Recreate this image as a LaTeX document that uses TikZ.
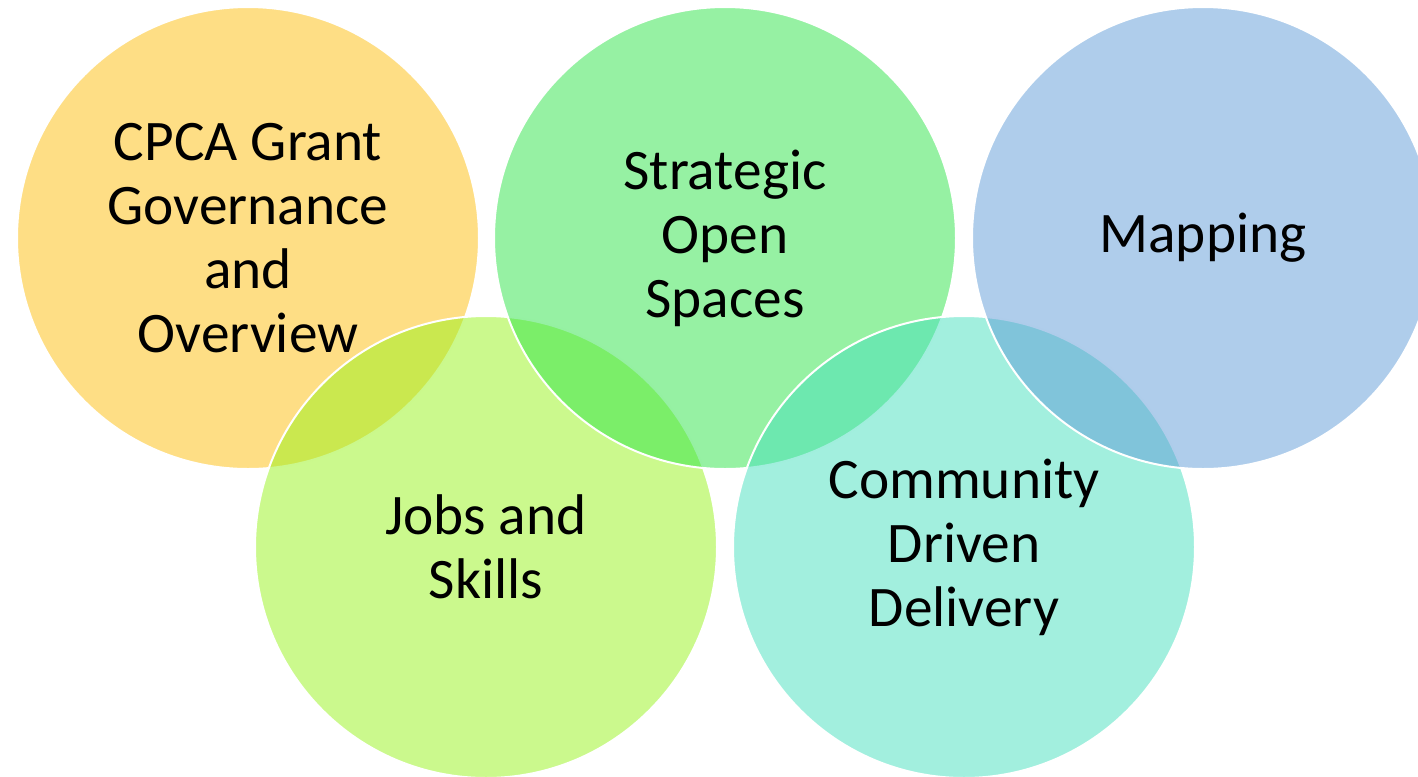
\documentclass[tikz,border=0pt]{standalone}
\usepackage{fontspec}
\setmainfont{Carlito}
\definecolor{cYellow}{RGB}{253,189,11}
\definecolor{cLime}{RGB}{151,243,27}
\definecolor{cGreen}{RGB}{45,227,71}
\definecolor{cTeal}{RGB}{69,223,189}
\definecolor{cBlue}{RGB}{95,155,215}
\begin{document}
\begin{tikzpicture}[x=0.75pt,y=-0.75pt,
  venn/.style={circle,minimum size=346.5pt,inner sep=0pt,outer sep=0pt,
    fill opacity=0.5,draw=white,draw opacity=1,line width=1.5pt},
  lbl/.style={align=center,text=black,font=\fontsize{43}{48}\selectfont}]
\useasboundingbox (0,0) rectangle (1418,776);
\node[venn,fill=cYellow] (yel) at (248,238) {};
\node[venn,fill=cLime] (lim) at (486,547) {};
\node[venn,fill=cGreen] (grn) at (725,238) {};
\node[venn,fill=cTeal] (tea) at (964,547) {};
\node[venn,fill=cBlue] (blu) at (1203,238) {};
\node[lbl] (tyel) at (yel.center) {CPCA Grant\\Governance\\and\\Overview};
\node[lbl] (tlim) at (lim.center) {Jobs and\\Skills};
\node[lbl] (tgrn) at (grn.center) {Strategic\\Open\\Spaces};
\node[lbl] (ttea) at (tea.center) {Community\\Driven\\Delivery};
\node[lbl] (tblu) at (blu.center) {Mapping};
\end{tikzpicture}
\end{document}
